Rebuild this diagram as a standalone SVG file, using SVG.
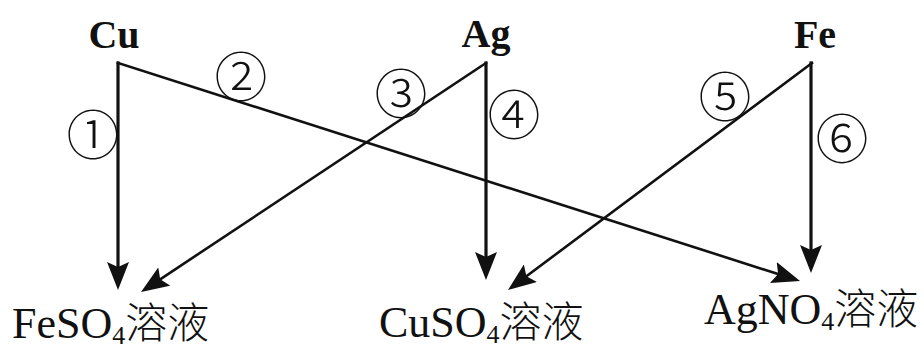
<svg xmlns="http://www.w3.org/2000/svg" width="924" height="350" viewBox="0 0 924 350">
<style>
.top{font-family:"Liberation Serif","Times New Roman",serif;font-size:40px;font-weight:bold;fill:#111;text-anchor:middle}
.bot{font-family:"Liberation Serif","Times New Roman",serif;font-size:44px;fill:#111}
.sub{font-size:26px}
.cjk{font-family:"Noto Sans CJK SC",sans-serif;font-size:42px;font-weight:300}
.num{font-family:"Noto Sans CJK SC",sans-serif;font-size:53px;font-weight:300;fill:#111;text-anchor:middle;dominant-baseline:central}
.c{stroke:#111;stroke-width:2.6;fill:none;stroke-linecap:square;marker-end:url(#ah)}
.v{stroke-width:3.2}
</style>
<defs>
<marker id="ah" markerUnits="userSpaceOnUse" viewBox="0 0 28 22" markerWidth="28" markerHeight="22" refX="20" refY="11" orient="auto">
<path d="M0,0 L28,11 L0,22 L5,11 Z" fill="#111"/>
</marker>
</defs>
<g id="connectors">
<line id="e1" class="c v" x1="118" y1="63" x2="118" y2="282"/>
<line id="e2" class="c" x1="118" y1="63" x2="792.4" y2="278.6"/>
<line id="e3" class="c" x1="486" y1="63" x2="147.7" y2="287.6"/>
<line id="e4" class="c v" x1="486" y1="63" x2="486" y2="272"/>
<line id="e5" class="c" x1="812" y1="63" x2="514.4" y2="285.2"/>
<line id="e6" class="c v" x1="811" y1="63" x2="811" y2="265"/>
</g>
<g id="labels">
<text class="num" x="93" y="132">①</text>
<text class="num" x="241" y="74">②</text>
<text class="num" x="401" y="91">③</text>
<text class="num" x="514" y="112">④</text>
<text class="num" x="725" y="94">⑤</text>
<text class="num" x="842" y="136">⑥</text>
</g>
<g id="node-Cu"><text class="top" x="114" y="48">Cu</text></g>
<g id="node-Ag"><text class="top" x="486" y="47">Ag</text></g>
<g id="node-Fe"><text class="top" x="815" y="48">Fe</text></g>
<g id="node-FeSO4"><text class="bot" x="12" y="338">FeSO<tspan class="sub" y="344">4</tspan><tspan class="cjk" y="338">溶液</tspan></text></g>
<g id="node-CuSO4"><text class="bot" x="379" y="337">CuSO<tspan class="sub" y="343">4</tspan><tspan class="cjk" y="337">溶液</tspan></text></g>
<g id="node-AgNO4"><text class="bot" x="704" y="324">AgNO<tspan class="sub" y="330">4</tspan><tspan class="cjk" y="324">溶液</tspan></text></g>
</svg>
